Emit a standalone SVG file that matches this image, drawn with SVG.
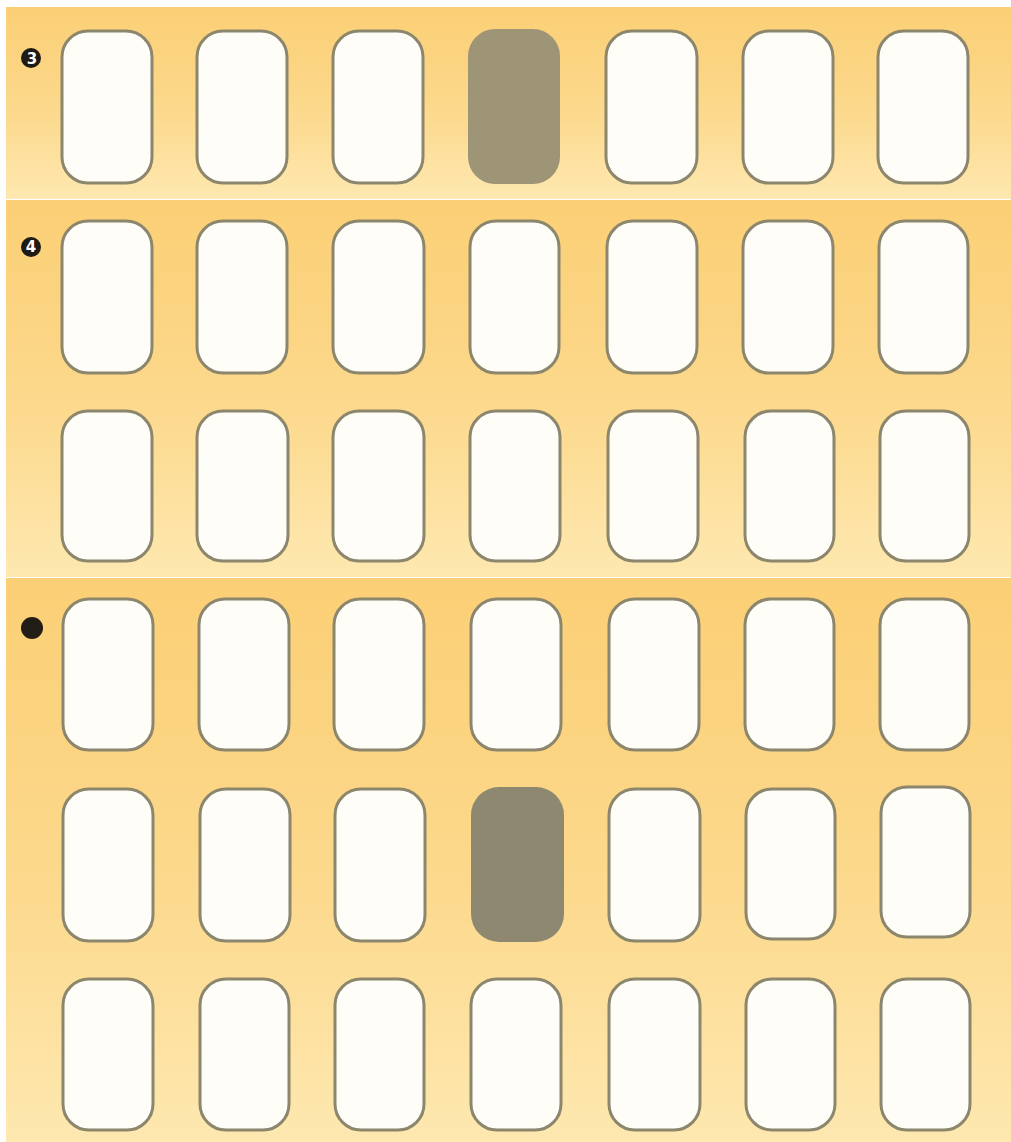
<svg xmlns="http://www.w3.org/2000/svg" width="1011" height="1142" viewBox="0 0 1011 1142">
<defs>
<linearGradient id="bg" x1="0" y1="0" x2="0" y2="1">
<stop offset="0" stop-color="#fbcf75"/>
<stop offset="0.55" stop-color="#fcd98d"/>
<stop offset="1" stop-color="#fee8b0"/>
</linearGradient>
<style>
.card{fill:#fefdf8;stroke:#8c866c;stroke-width:3}
.dark1{fill:#9e9576;stroke:none}
.dark2{fill:#8f8870;stroke:none}
.lbl{font-family:"DejaVu Sans",sans-serif;font-weight:bold;font-size:15px;fill:#ffffff;text-anchor:middle}
</style>
</defs>
<rect x="0" y="0" width="1011" height="1142" fill="#ffffff"/>
<g id="bands">
<rect x="6" y="7" width="1005" height="192" fill="url(#bg)"/>
<rect x="6" y="200" width="1005" height="377" fill="url(#bg)"/>
<rect x="6" y="578" width="1005" height="564" fill="url(#bg)"/>
</g>
<g id="label-3"><circle cx="31" cy="58" r="10" fill="#1e1a16"/><text class="lbl" x="32" y="64">3</text></g>
<g id="label-4"><circle cx="31" cy="247" r="10" fill="#1e1a16"/><text class="lbl" x="31" y="252">4</text></g>
<g id="label-dot"><circle cx="32" cy="628" r="11" fill="#231d18"/></g>
<g id="row1">
<rect id="r1c1" class="card" x="62" y="31" width="90" height="152" rx="26"/>
<rect id="r1c2" class="card" x="197" y="31" width="90" height="152" rx="26"/>
<rect id="r1c3" class="card" x="333" y="31" width="90" height="152" rx="26"/>
<rect id="r1c4" class="dark1" x="468" y="29" width="92" height="155" rx="27"/>
<rect id="r1c5" class="card" x="606" y="31" width="91" height="152" rx="26"/>
<rect id="r1c6" class="card" x="743" y="31" width="90" height="152" rx="26"/>
<rect id="r1c7" class="card" x="878" y="31" width="90" height="152" rx="26"/>
</g>
<g id="row2">
<rect id="r2c1" class="card" x="62" y="221" width="90" height="152" rx="26"/>
<rect id="r2c2" class="card" x="197" y="221" width="90" height="152" rx="26"/>
<rect id="r2c3" class="card" x="333" y="221" width="91" height="152" rx="26"/>
<rect id="r2c4" class="card" x="470" y="221" width="89" height="152" rx="26"/>
<rect id="r2c5" class="card" x="607" y="221" width="90" height="152" rx="26"/>
<rect id="r2c6" class="card" x="743" y="221" width="90" height="152" rx="26"/>
<rect id="r2c7" class="card" x="879" y="221" width="89" height="152" rx="26"/>
</g>
<g id="row3">
<rect id="r3c1" class="card" x="62" y="411" width="90" height="150" rx="26"/>
<rect id="r3c2" class="card" x="197" y="411" width="91" height="150" rx="26"/>
<rect id="r3c3" class="card" x="333" y="411" width="91" height="150" rx="26"/>
<rect id="r3c4" class="card" x="470" y="411" width="90" height="150" rx="26"/>
<rect id="r3c5" class="card" x="608" y="411" width="90" height="150" rx="26"/>
<rect id="r3c6" class="card" x="745" y="411" width="89" height="150" rx="26"/>
<rect id="r3c7" class="card" x="880" y="411" width="89" height="150" rx="26"/>
</g>
<g id="row4">
<rect id="r4c1" class="card" x="63" y="599" width="90" height="151" rx="26"/>
<rect id="r4c2" class="card" x="199" y="599" width="90" height="151" rx="26"/>
<rect id="r4c3" class="card" x="334" y="599" width="90" height="151" rx="26"/>
<rect id="r4c4" class="card" x="471" y="599" width="90" height="151" rx="26"/>
<rect id="r4c5" class="card" x="609" y="599" width="90" height="151" rx="26"/>
<rect id="r4c6" class="card" x="745" y="599" width="89" height="151" rx="26"/>
<rect id="r4c7" class="card" x="880" y="599" width="89" height="151" rx="26"/>
</g>
<g id="row5">
<rect id="r5c1" class="card" x="63" y="789" width="90" height="152" rx="26"/>
<rect id="r5c2" class="card" x="200" y="789" width="90" height="152" rx="26"/>
<rect id="r5c3" class="card" x="335" y="789" width="90" height="152" rx="26"/>
<rect id="r5c4" class="dark2" x="471" y="787" width="93" height="155" rx="28"/>
<rect id="r5c5" class="card" x="609" y="789" width="91" height="152" rx="26"/>
<rect id="r5c6" class="card" x="746" y="789" width="89" height="150" rx="26"/>
<rect id="r5c7" class="card" x="881" y="787" width="89" height="150" rx="26"/>
</g>
<g id="row6">
<rect id="r6c1" class="card" x="63" y="979" width="90" height="151" rx="26"/>
<rect id="r6c2" class="card" x="200" y="979" width="89" height="151" rx="26"/>
<rect id="r6c3" class="card" x="335" y="979" width="89" height="151" rx="26"/>
<rect id="r6c4" class="card" x="471" y="979" width="90" height="151" rx="26"/>
<rect id="r6c5" class="card" x="609" y="979" width="91" height="151" rx="26"/>
<rect id="r6c6" class="card" x="746" y="979" width="89" height="151" rx="26"/>
<rect id="r6c7" class="card" x="881" y="979" width="89" height="151" rx="26"/>
</g>
<g id="connectors"></g>
</svg>
